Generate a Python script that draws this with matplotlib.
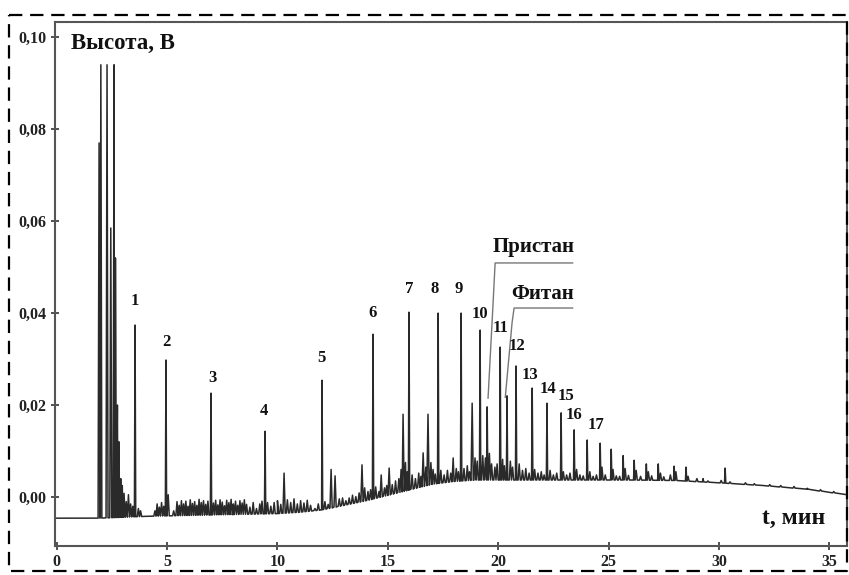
import numpy as np
import matplotlib
matplotlib.use("Agg")
import matplotlib.pyplot as plt
from matplotlib.lines import Line2D

# baseline of the chromatogram (time, min / signal, V)
base_t = [0.0, 1.85, 3.0, 4.0, 6.0, 8.0, 10.0, 11.0, 12.0, 13.0, 14.0, 15.0, 16.0,
          17.0, 18.0, 19.0, 22.0, 26.0, 28.0, 30.0, 32.0, 34.0, 35.8]
base_v = [-0.0046, -0.0046, -0.0044, -0.0042, -0.0040, -0.0038, -0.0036, -0.0033,
          -0.0028, -0.0018, -0.0008, 0.0004, 0.0016, 0.0028, 0.0034, 0.0037, 0.0037,
          0.0037, 0.0036, 0.0031, 0.0025, 0.0017, 0.0005]

# solvent front
solv_t = [1.92, 2.0, 2.28, 2.45, 2.6, 2.66]
solv_h = [0.077, 0.094, 0.094, 0.0585, 0.094, 0.052]

# numbered n-alkane peaks 1..17
num_t = [3.55, 4.95, 6.99, 9.44, 12.02, 14.33, 15.96, 17.28, 18.32, 19.18, 20.09,
         20.81, 21.54, 22.21, 22.85, 23.44, 24.03]
num_h = [0.0374, 0.0298, 0.0226, 0.0143, 0.0254, 0.0354, 0.0402, 0.0400, 0.0400,
         0.0363, 0.0326, 0.0285, 0.0237, 0.0204, 0.0183, 0.0146, 0.0124]
num_lbl = [str(i) for i in range(1, 18)]
lbl_x = [3.55, 4.95, 7.04, 9.4, 11.97, 14.29, 15.96, 17.1, 18.2, 19.18, 20.09,
         20.86, 21.45, 22.26, 23.08, 23.44, 24.44]
lbl_y = [0.0426, 0.0337, 0.0259, 0.0187, 0.0302, 0.0400, 0.0452, 0.0452, 0.0452,
         0.0398, 0.0367, 0.0328, 0.0265, 0.0235, 0.0220, 0.0178, 0.0157]

# isoprenoids
pr_t, pr_h = 19.5, 0.0196
ph_t, ph_h = 20.4, 0.0220

# later homologues (unlabelled)
late_t = [24.62, 25.12, 25.66, 26.16, 26.71, 27.25, 27.97, 28.51, 29.28, 30.28]
late_h = [0.0117, 0.0104, 0.0090, 0.0080, 0.0072, 0.0072, 0.0067, 0.0065, 0.0040, 0.0063]

# small peaks / noise
noise_t = [2.75, 2.82, 2.9, 2.97, 3.05, 3.15, 3.25, 3.35, 3.45, 3.7, 3.8,
           4.45, 4.55, 4.65, 4.75, 4.85, 5.05, 5.3, 5.45, 5.55, 5.65, 5.75, 5.85,
           5.95, 6.05, 6.15, 6.25, 6.35, 6.45, 6.55, 6.65, 6.75, 6.85, 7.1, 7.2,
           7.3, 7.4, 7.5, 7.6, 7.7, 7.8, 7.9, 8.0, 8.1, 8.2, 8.3, 8.4, 8.5, 8.6,
           8.75, 8.9, 9.05, 9.2, 9.3, 9.55, 9.7, 9.85, 10.0, 10.15, 10.3, 10.45,
           10.6, 10.75, 10.9, 11.05, 11.2, 11.35, 11.5, 11.7, 11.85, 12.15, 12.3,
           12.43, 12.61, 12.8, 12.95, 13.1, 13.25, 13.4, 13.55, 13.7, 13.83, 13.95,
           14.1, 14.22, 14.45, 14.6, 14.7, 14.85, 14.95, 15.06, 15.2, 15.35, 15.5,
           15.6, 15.69, 15.8, 15.88, 16.1, 16.25, 16.4, 16.5, 16.6, 16.72, 16.82,
           16.95, 17.05, 17.15, 17.4, 17.55, 17.7, 17.85, 17.96, 18.1, 18.2, 18.45,
           18.6, 18.7, 18.82, 18.95, 19.05, 19.3, 19.42, 19.6, 19.7, 19.85, 19.95,
           20.2, 20.28, 20.55, 20.65, 20.95, 21.1, 21.25, 21.4, 21.65, 21.8, 21.95,
           22.08, 22.35, 22.5, 22.65, 22.95, 23.1, 23.25, 23.55, 23.7, 23.85, 24.15,
           24.3, 24.45, 24.7, 24.85, 25.2, 25.35, 25.5, 25.75, 25.9, 26.25, 26.45,
           26.8, 26.95, 27.35, 27.5, 27.8, 28.05, 28.6, 29.0, 29.5, 30.1, 30.5,
           31.2, 31.6, 32.3, 32.8, 33.4, 34.0, 34.6, 35.2]
noise_h = [0.020, 0.012, 0.004, 0.0025, 0.0008, -0.001, 0.0005, -0.0015, -0.002,
           -0.0025, -0.003,
           -0.003, -0.0015, -0.0022, -0.0012, -0.002, 0.0005, -0.003, -0.001,
           -0.0018, -0.0008, -0.0015, -0.0009, -0.002, -0.0006, -0.0014, -0.001,
           -0.0018, -0.0005, -0.0012, -0.0008, -0.0016, -0.0009, -0.0013, -0.0007,
           -0.0017, -0.0006, -0.0011, -0.0019, -0.0007, -0.0012, -0.0005, -0.0015,
           -0.0009, -0.0018, -0.0008, -0.0013, -0.0006, -0.0016, -0.0022, -0.0012,
           -0.0025, -0.0015, -0.0009, -0.0012, -0.002, -0.0012, -0.0008, -0.0016,
           0.0052, -0.0006, -0.0012, -0.0004, -0.0015, -0.0008, -0.0013, -0.0007,
           -0.0018, -0.0025, -0.0015, -0.001, -0.0016, 0.006, 0.0046, -0.0004,
           -0.0002, -0.0008, -0.0002, 0.0004, 0.0001, 0.0009, 0.007, 0.002, 0.0012,
           0.0016, 0.0022, 0.0012, 0.0048, 0.002, 0.0025, 0.0063, 0.0027, 0.0035,
           0.004, 0.006, 0.018, 0.0075, 0.0055, 0.0048, 0.004, 0.0052, 0.0045,
           0.0096, 0.0065, 0.018, 0.0075, 0.006, 0.005, 0.0058, 0.0048, 0.0058,
           0.0052, 0.0085, 0.0062, 0.0055, 0.0062, 0.0068, 0.0055, 0.0204, 0.0085,
           0.0078, 0.009, 0.0085, 0.0095, 0.0072, 0.0065, 0.0072, 0.0082, 0.0068,
           0.0078, 0.0065, 0.0072, 0.0058, 0.0062, 0.0052, 0.006, 0.0052, 0.0055,
           0.0048, 0.0058, 0.0048, 0.0052, 0.0055, 0.0048, 0.0052, 0.006, 0.0048,
           0.0046, 0.0055, 0.0045, 0.0048, 0.0065, 0.0048, 0.006, 0.0046, 0.0045,
           0.0062, 0.0047, 0.0058, 0.0045, 0.0055, 0.0046, 0.0052, 0.0044, 0.0048,
           0.0055, 0.0045, 0.004, 0.0035, 0.0036, 0.0033, 0.0031, 0.0029, 0.0027,
           0.0025, 0.0023, 0.0019, 0.0016, 0.0012]

# collect all peaks
pk_t = np.array(solv_t + num_t + [pr_t, ph_t] + late_t + noise_t)
pk_h = np.array(solv_h + num_h + [pr_h, ph_h] + late_h + noise_h)
n_main = len(solv_t) + len(num_t) + 2 + len(late_t)
pk_w = np.array([0.045] * len(solv_t) + [0.03] * (n_main - len(solv_t))
                + [0.05] * len(noise_t))

# build trace: baseline + narrow triangular spikes
pk_b = np.interp(pk_t, base_t, base_v)
xs = list(base_t)
ys = list(base_v)
for t, h, b, w in zip(pk_t, pk_h, pk_b, pk_w):
    xs += [t - w, t, t + w]
    ys += [b, h, b]
order = np.argsort(xs, kind="stable")
xs = np.array(xs)[order]
ys = np.array(ys)[order]

serif = "Liberation Serif"

fig = plt.figure(figsize=(8.49, 5.75), dpi=100)
ax = fig.add_axes([55 / 849, 29 / 575, 792 / 849, 524 / 575])

ax.plot(xs, ys, color="#2a2a2a", lw=1.1)

ax.set_xlim(-0.077, 35.8)
ax.set_ylim(-0.01065, 0.1033)
ax.set_xticks(range(0, 36, 5))
ax.set_yticks([0.0, 0.02, 0.04, 0.06, 0.08, 0.10])
ax.set_yticklabels(["0,00", "0,02", "0,04", "0,06", "0,08", "0,10"])
ax.tick_params(direction="inout", length=6, width=1.2, color="#333", pad=3)
for lab in ax.get_xticklabels() + ax.get_yticklabels():
    lab.set_fontfamily(serif)
    lab.set_fontweight("bold")
    lab.set_fontsize(11.5)
    lab.set_color("#222")
for sp in ax.spines.values():
    sp.set_color("#555")
    sp.set_linewidth(1.5)

# peak numbers
for s, x, y in zip(num_lbl, lbl_x, lbl_y):
    ax.text(x, y, s, ha="center", va="center", fontfamily=serif,
            fontweight="bold", fontsize=12, color="#111")

# pristane / phytane leaders
ax.plot([23.37, 19.86, 19.77, 19.54], [0.0509, 0.0509, 0.0424, 0.0215],
        color="#777", lw=1.0)
ax.plot([23.37, 20.72, 20.63, 20.32], [0.0411, 0.0411, 0.0380, 0.0217],
        color="#777", lw=1.0)
ax.text(21.6, 0.0543, "Пристан", ha="center", va="center", fontfamily=serif,
        fontweight="bold", fontsize=15, color="#111")
ax.text(22.0, 0.0441, "Фитан", ha="center", va="center", fontfamily=serif,
        fontweight="bold", fontsize=15, color="#111")

ax.text(0.65, 0.0987, "Высота, В", ha="left", va="center", fontfamily=serif,
        fontweight="bold", fontsize=16.5, color="#111")
ax.text(33.4, -0.0046, "t, мин", ha="center", va="center", fontfamily=serif,
        fontweight="bold", fontsize=17, color="#111")

# dashed frame round the figure
fx = [9 / 849, 847 / 849, 847 / 849, 9 / 849, 9 / 849]
fy = [1 - 15 / 575, 1 - 15 / 575, 1 - 571 / 575, 1 - 571 / 575, 1 - 15 / 575]
fig.add_artist(Line2D(fx, fy, transform=fig.transFigure, color="black",
                      lw=1.6, linestyle=(0, (6, 3.5))))

fig.savefig("out.png", dpi=100)
